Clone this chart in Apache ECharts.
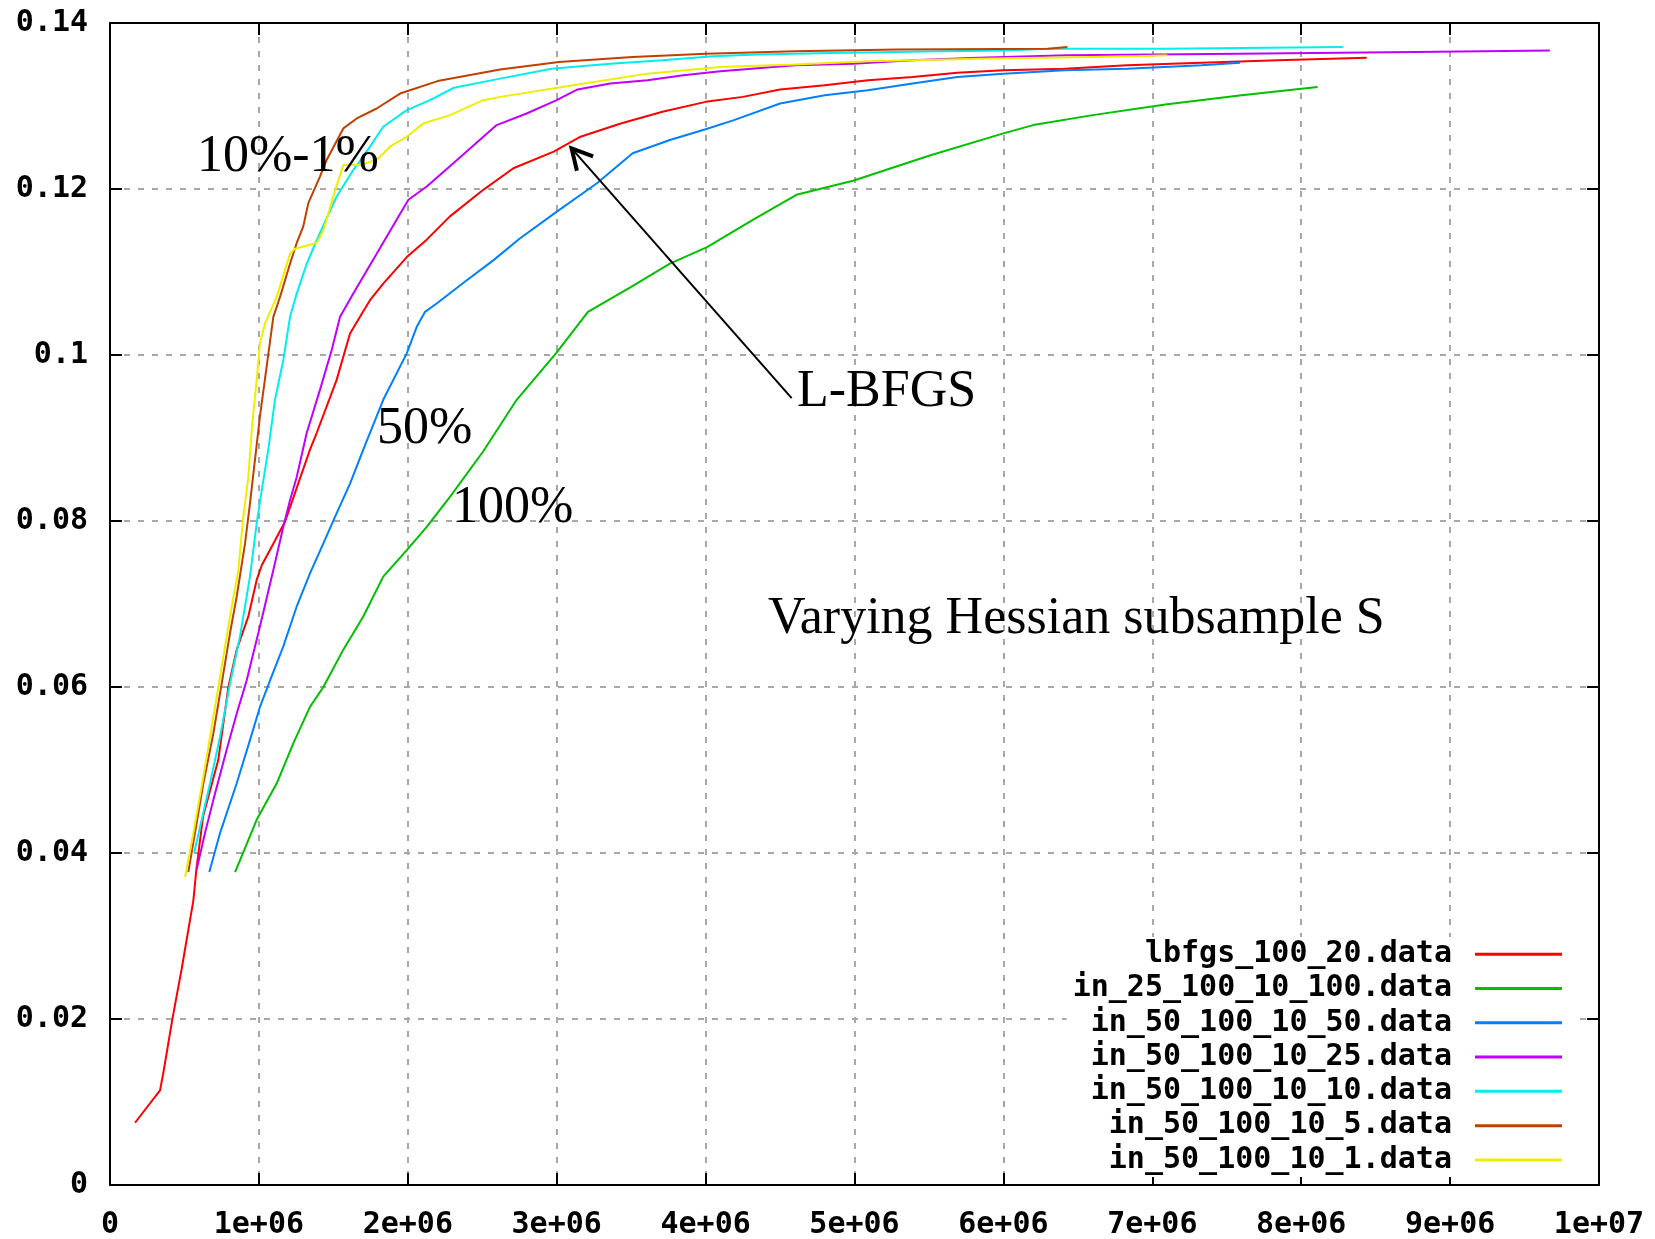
<!DOCTYPE html>
<html>
<head>
<meta charset="utf-8">
<script src="https://cdn.jsdelivr.net/npm/echarts@6/dist/echarts.min.js"></script>
<style>
  html, body { margin: 0; padding: 0; background: #fff; }
  #chart { width: 1655px; height: 1239px; }
</style>
</head>
<body>
<div id="chart"></div>
<script>
// x values are in units of 1e6
let seriesNames = [
  'lbfgs_100_20.data',
  'in_25_100_10_100.data',
  'in_50_100_10_50.data',
  'in_50_100_10_25.data',
  'in_50_100_10_10.data',
  'in_50_100_10_5.data',
  'in_50_100_10_1.data'
]
let colors = ['#ff0000', '#00c000', '#0080ff', '#c000ff', '#00eeee', '#c04000', '#eeee00']

let lbfgs = [
  [0.168, 0.0075], [0.336, 0.0114], [0.36, 0.0137], [0.42, 0.0201], [0.48, 0.0259], [0.56, 0.0343],
  [0.58, 0.038], [0.625, 0.0444], [0.727, 0.0512], [0.795, 0.060], [0.851, 0.0645], [0.929, 0.0685],
  [0.985, 0.0729], [1.02, 0.0747], [1.086, 0.0769], [1.175, 0.0799], [1.254, 0.0840], [1.343, 0.0886],
  [1.388, 0.0906], [1.522, 0.097], [1.612, 0.1026], [1.679, 0.1046], [1.746, 0.1066], [1.835, 0.1086],
  [1.993, 0.1118], [2.127, 0.1139], [2.283, 0.1167], [2.507, 0.1199], [2.709, 0.1225], [2.98, 0.1245],
  [3.16, 0.1263], [3.43, 0.1279], [3.71, 0.1293], [4.0, 0.1305], [4.25, 0.1311], [4.5, 0.1320],
  [4.8, 0.1325], [5.09, 0.1331], [5.39, 0.1335], [5.69, 0.1340], [6.0, 0.1343], [6.41, 0.1345],
  [6.83, 0.1349], [7.33, 0.1352], [7.84, 0.1355], [8.44, 0.1358]
]
let in25_100 = [
  [0.84, 0.0377], [0.985, 0.044], [1.12, 0.0484], [1.231, 0.0532], [1.343, 0.0576], [1.433, 0.060],
  [1.567, 0.0645], [1.701, 0.0685], [1.835, 0.0733], [1.993, 0.0765], [2.127, 0.0793], [2.283, 0.0829],
  [2.507, 0.0884], [2.731, 0.0946], [2.995, 0.1002], [3.21, 0.1052], [3.5, 0.1082], [3.76, 0.111],
  [4.01, 0.113], [4.32, 0.1163], [4.61, 0.1193], [4.99, 0.121], [5.5, 0.1240], [6.0, 0.1267],
  [6.2, 0.1277], [6.6, 0.1289], [7.1, 0.1302], [7.6, 0.1313], [8.11, 0.1323]
]
let in50_50 = [
  [0.667, 0.0377], [0.739, 0.0424], [0.851, 0.0484], [0.94, 0.0536], [1.007, 0.0576], [1.075, 0.0608],
  [1.164, 0.0649], [1.254, 0.0697], [1.343, 0.0737], [1.433, 0.0773], [1.511, 0.0805], [1.612, 0.0845],
  [1.701, 0.0886], [1.835, 0.0946], [1.993, 0.1002], [2.06, 0.1034], [2.116, 0.1052], [2.194, 0.1062],
  [2.396, 0.109], [2.574, 0.1114], [2.75, 0.114], [2.98, 0.117], [3.27, 0.1207], [3.51, 0.1243],
  [3.76, 0.1259], [4.0, 0.1272], [4.19, 0.1283], [4.5, 0.1303], [4.8, 0.1313], [5.09, 0.1319],
  [5.39, 0.1327], [5.69, 0.1335], [6.0, 0.1339], [6.41, 0.1343], [6.83, 0.1345], [7.33, 0.1349],
  [7.59, 0.1352]
]
let in50_25 = [
  [0.582, 0.038], [0.638, 0.0424], [0.694, 0.0464], [0.783, 0.0524], [0.851, 0.0568], [0.918, 0.0608],
  [1.007, 0.0673], [1.097, 0.0741], [1.164, 0.0793], [1.209, 0.0825], [1.254, 0.0853], [1.321, 0.0906],
  [1.41, 0.0958], [1.489, 0.1006], [1.545, 0.1046], [1.634, 0.1074], [1.791, 0.1122], [1.925, 0.1163],
  [2.004, 0.1187], [2.127, 0.1203], [2.306, 0.1231], [2.507, 0.1263], [2.597, 0.1277], [2.798, 0.1291],
  [3.0, 0.1307], [3.14, 0.132], [3.36, 0.1327], [3.61, 0.1331], [3.85, 0.1337], [4.1, 0.1342],
  [4.6, 0.1349], [4.99, 0.1351], [5.39, 0.1355], [5.83, 0.1358], [6.43, 0.1361], [7.58, 0.1363],
  [8.76, 0.1365], [9.67, 0.1367]
]
let in50_10 = [
  [0.565, 0.040], [0.672, 0.0484], [0.739, 0.054], [0.806, 0.0604], [0.873, 0.0661], [0.94, 0.0733],
  [0.985, 0.0797], [1.019, 0.0837], [1.063, 0.0886], [1.108, 0.0946], [1.164, 0.0994], [1.209, 0.1046],
  [1.254, 0.1074], [1.321, 0.111], [1.41, 0.1147], [1.522, 0.1191], [1.634, 0.1223], [1.701, 0.1239],
  [1.835, 0.1275], [1.993, 0.1295], [2.149, 0.1307], [2.31, 0.1322], [2.62, 0.1333], [2.965, 0.1345],
  [3.36, 0.1351], [3.71, 0.1355], [4.05, 0.136], [4.35, 0.1362], [4.84, 0.1364], [5.59, 0.1366],
  [6.0, 0.1367], [6.3, 0.1369], [7.09, 0.1369], [7.1, 0.1371], [8.28, 0.1371]
]
let in50_5 = [
  [0.526, 0.0377], [0.627, 0.0484], [0.694, 0.0544], [0.75, 0.0604], [0.806, 0.0665], [0.851, 0.0709],
  [0.907, 0.0773], [0.94, 0.0821], [1.007, 0.0926], [1.052, 0.0986], [1.097, 0.1046], [1.142, 0.1070],
  [1.209, 0.1110], [1.254, 0.1135], [1.298, 0.1155], [1.332, 0.1183], [1.41, 0.1215], [1.455, 0.1235],
  [1.567, 0.1273], [1.657, 0.1285], [1.791, 0.1297], [1.948, 0.1315], [2.2, 0.1330], [2.62, 0.1344],
  [3.015, 0.1353], [3.51, 0.1359], [4.0, 0.1363], [4.6, 0.1366], [5.29, 0.1368], [6.3, 0.1369],
  [6.31, 0.1371], [6.43, 0.1371]
]
let in50_1 = [
  [0.504, 0.0371], [0.56, 0.0424], [0.627, 0.0492], [0.683, 0.0552], [0.739, 0.0612], [0.806, 0.0685],
  [0.862, 0.0741], [0.895, 0.0805], [0.929, 0.0853], [0.952, 0.091], [0.985, 0.097], [1.007, 0.1014],
  [1.041, 0.1038], [1.12, 0.107], [1.209, 0.1122], [1.242, 0.1128], [1.388, 0.1135], [1.433, 0.115],
  [1.5, 0.1191], [1.556, 0.1223], [1.567, 0.1229], [1.679, 0.1229], [1.791, 0.1235], [1.88, 0.1251],
  [1.993, 0.1263], [2.104, 0.1279], [2.283, 0.1289], [2.507, 0.1307], [2.62, 0.1311], [3.11, 0.1325],
  [3.61, 0.1339], [4.1, 0.1347], [4.6, 0.135], [5.09, 0.1354], [5.83, 0.1357], [6.9, 0.136], [7.1, 0.1361]
]
let allData = [lbfgs, in25_100, in50_50, in50_25, in50_10, in50_5, in50_1]

let xTickLabels = ['0', '1e+06', '2e+06', '3e+06', '4e+06', '5e+06', '6e+06', '7e+06', '8e+06', '9e+06', '1e+07']
let yTickLabels = ['0', '0.02', '0.04', '0.06', '0.08', '0.1', '0.12', '0.14']

// annotation texts, anchored at left / baseline in data coordinates
let noteTexts = ['10%-1%', '50%', '100%', 'L-BFGS', 'Varying Hessian subsample S']
let noteX = [0.584, 1.793, 2.297, 4.614, 4.419]
let noteY = [0.1217, 0.0889, 0.0794, 0.0934, 0.0660]
let arrowFrom = [4.578, 0.0948]
let arrowTo = [3.1, 0.1249]

let monoFont = 'DejaVu Sans Mono'
let serifFont = 'Liberation Serif'

let gridLine = {
  show: true,
  lineStyle: { color: '#a8a8a8', width: 2, type: [6, 8] }
}
let border = { show: true, onZero: false, lineStyle: { color: '#000', width: 2 } }
let tick = { show: true, inside: true, length: 12, lineStyle: { color: '#000', width: 2 } }
let labelText = { fontFamily: monoFont, fontWeight: 'bold', fontSize: 30, color: '#000' }

let chart = echarts.init(document.getElementById('chart'))
let option = {
  animation: false,
  backgroundColor: '#fff',
  grid: {
    left: 110,
    right: 56,
    top: 23,
    bottom: 54,
    outerBoundsMode: 'none'
  },
  xAxis: [
    {
      type: 'value',
      position: 'bottom',
      min: 0,
      max: 10,
      interval: 1,
      axisLine: border,
      axisTick: tick,
      splitLine: gridLine,
      axisLabel: Object.assign({
        margin: 25,
        formatter: function (v, i) { return xTickLabels[i] }
      }, labelText)
    },
    {
      type: 'value',
      position: 'top',
      min: 0,
      max: 10,
      interval: 1,
      axisLine: border,
      axisTick: tick,
      splitLine: { show: false },
      axisLabel: { show: false }
    }
  ],
  yAxis: [
    {
      type: 'value',
      position: 'left',
      min: 0,
      max: 0.14,
      interval: 0.02,
      axisLine: border,
      axisTick: tick,
      splitLine: gridLine,
      axisLabel: Object.assign({
        margin: 22,
        formatter: function (v, i) { return yTickLabels[i] }
      }, labelText)
    },
    {
      type: 'value',
      position: 'right',
      min: 0,
      max: 0.14,
      interval: 0.02,
      axisLine: border,
      axisTick: tick,
      splitLine: { show: false },
      axisLabel: { show: false }
    }
  ],
  legend: {
    orient: 'vertical',
    right: 76,
    top: 937,
    align: 'right',
    icon: 'rect',
    itemWidth: 87,
    itemHeight: 3,
    itemGap: 0,
    padding: [0, 17, 0, 6],
    backgroundColor: '#fff',
    selectedMode: false,
    formatter: function (name) { return name + ' ' },
    textStyle: Object.assign({ lineHeight: 34.3 }, labelText),
    data: seriesNames
  },
  series: seriesNames.map(function (name, i) {
    return {
      name: name,
      type: 'line',
      data: allData[i],
      showSymbol: false,
      symbol: 'none',
      color: colors[i],
      lineStyle: { color: colors[i], width: 2 },
      z: 2 + i
    }
  })
}
chart.setOption(option)

// annotations placed from data coordinates
let graphics = []
noteTexts.forEach(function (t, i) {
  let p = chart.convertToPixel({ gridIndex: 0 }, [noteX[i], noteY[i]])
  graphics.push({
    type: 'text',
    x: p[0],
    y: p[1] - 52 * 0.34,
    z: 100,
    style: {
      text: t,
      fontFamily: serifFont,
      fontSize: 52,
      fill: '#000',
      align: 'left',
      verticalAlign: 'middle'
    }
  })
})
let a0 = chart.convertToPixel({ gridIndex: 0 }, arrowFrom)
let a1 = chart.convertToPixel({ gridIndex: 0 }, arrowTo)
let ang = Math.atan2(a0[1] - a1[1], a0[0] - a1[0])
let headLen = 23
let spread = 28 * Math.PI / 180
graphics.push({
  type: 'line',
  z: 100,
  shape: { x1: a0[0], y1: a0[1], x2: a1[0], y2: a1[1] },
  style: { stroke: '#000', lineWidth: 2 }
})
graphics.push({
  type: 'polyline',
  z: 100,
  shape: {
    points: [
      [a1[0] + headLen * Math.cos(ang - spread), a1[1] + headLen * Math.sin(ang - spread)],
      [a1[0], a1[1]],
      [a1[0] + headLen * Math.cos(ang + spread), a1[1] + headLen * Math.sin(ang + spread)]
    ]
  },
  style: { stroke: '#000', lineWidth: 4, fill: null, lineJoin: 'miter' }
})
chart.setOption({ graphic: graphics })
</script>
</body>
</html>
